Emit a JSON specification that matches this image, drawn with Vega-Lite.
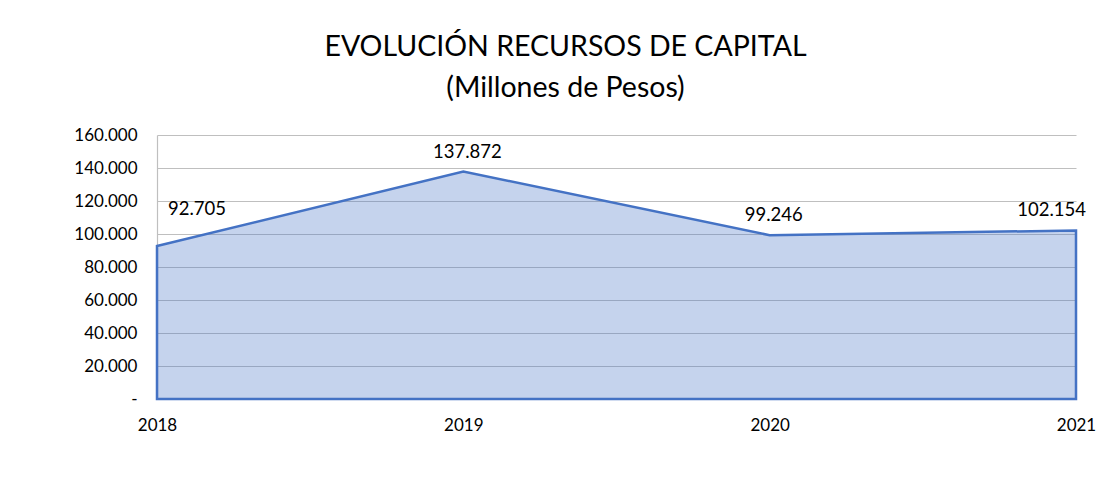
{
  "$schema": "https://vega.github.io/schema/vega-lite/v6.json",
  "width": 919,
  "height": 264,
  "autosize": {"type": "none"},
  "padding": {"left": 157, "top": 135, "right": 30, "bottom": 88},
  "background": "white",
  "title": {
    "text": ["EVOLUCIÓN RECURSOS DE CAPITAL", "(Millones de Pesos)"],
    "font": "Lato",
    "fontSize": 28.5,
    "fontWeight": "normal",
    "color": "#000000",
    "anchor": "middle",
    "frame": "group",
    "dx": -51,
    "offset": 24,
    "lineHeight": 41
  },
  "data": {
    "values": [
      {"year": "2018", "value": 92705},
      {"year": "2019", "value": 137872},
      {"year": "2020", "value": 99246},
      {"year": "2021", "value": 102154}
    ]
  },
  "config": {
    "locale": {"number": {"decimal": ",", "thousands": ".", "grouping": [3], "currency": ["$", ""]}},
    "view": {"stroke": null},
    "axis": {"labelFont": "Lato", "labelFontSize": 17, "labelColor": "#000000", "ticks": false, "title": null}
  },
  "encoding": {
    "x": {
      "field": "year",
      "type": "ordinal",
      "scale": {"type": "point", "padding": 0},
      "axis": {"labelAngle": 0, "labelPadding": 18, "domain": false, "grid": false}
    },
    "y": {
      "field": "value",
      "type": "quantitative",
      "scale": {"domain": [0, 160000]},
      "axis": {
        "values": [0, 20000, 40000, 60000, 80000, 100000, 120000, 140000, 160000],
        "labelExpr": "datum.value == 0 ? '-' : format(datum.value / 1000, 'd') + '.000'",
        "labelPadding": 20,
        "grid": true,
        "gridColor": "#BFBFBF",
        "gridWidth": 1.2,
        "domain": true,
        "domainColor": "#BFBFBF",
        "domainWidth": 1.2
      }
    }
  },
  "layer": [
    {
      "mark": {"type": "area", "fill": "#4472C4", "fillOpacity": 0.31, "stroke": "#4472C4", "strokeWidth": 2.5, "strokeJoin": "miter"}
    },
    {
      "transform": [{"filter": "datum.year == '2018'"}],
      "mark": {"type": "text", "font": "Lato", "fontSize": 18.5, "color": "#000000", "align": "left", "baseline": "alphabetic", "dx": 11, "dy": -31},
      "encoding": {"text": {"field": "value", "type": "quantitative", "format": ",d"}}
    },
    {
      "transform": [{"filter": "datum.year == '2019' || datum.year == '2020'"}],
      "mark": {"type": "text", "font": "Lato", "fontSize": 18.5, "color": "#000000", "align": "center", "baseline": "alphabetic", "dx": 4, "dy": -14},
      "encoding": {"text": {"field": "value", "type": "quantitative", "format": ",d"}}
    },
    {
      "transform": [{"filter": "datum.year == '2021'"}],
      "mark": {"type": "text", "font": "Lato", "fontSize": 18.5, "color": "#000000", "align": "right", "baseline": "alphabetic", "dx": 10, "dy": -14},
      "encoding": {"text": {"field": "value", "type": "quantitative", "format": ",d"}}
    }
  ]
}
